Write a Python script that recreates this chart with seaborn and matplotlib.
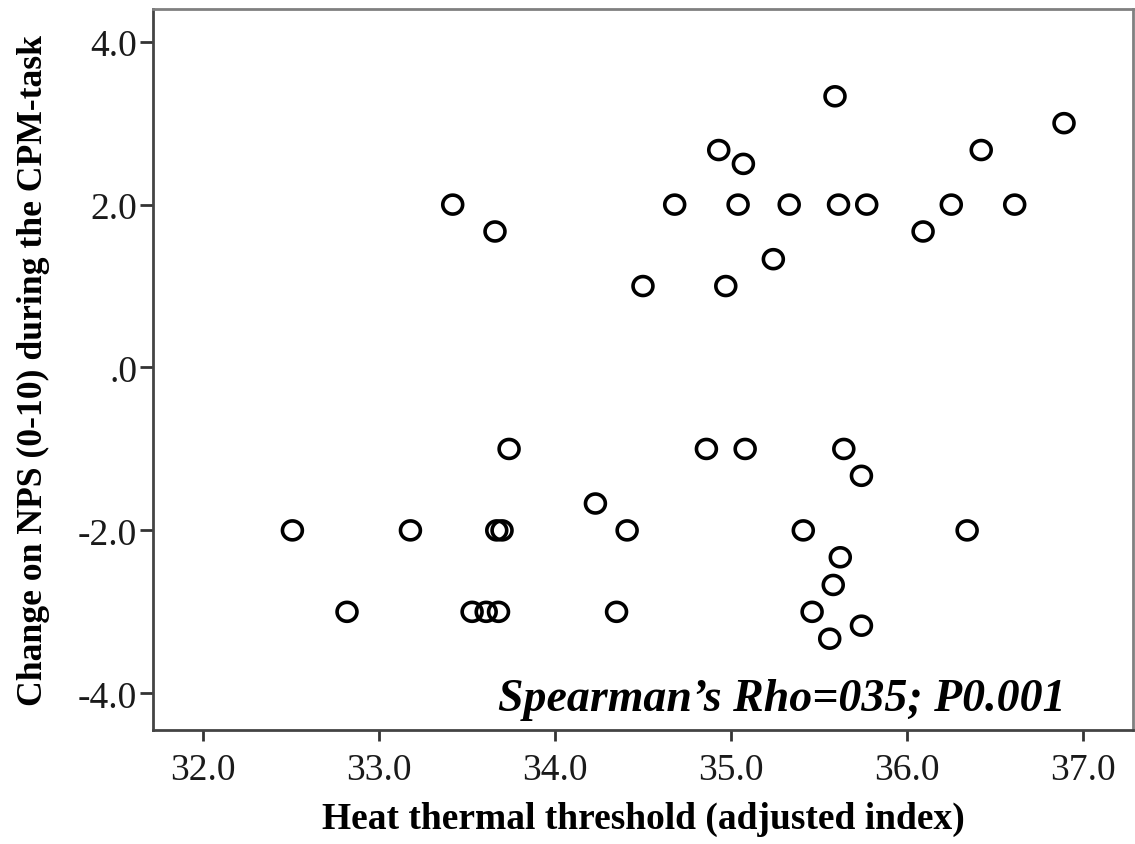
import numpy as np
import pandas as pd
import seaborn as sns
import matplotlib.pyplot as plt
from matplotlib.path import Path

# values
heat_threshold = [
    35.59, 36.89, 34.93, 35.07, 36.42,
    33.42, 34.68, 35.04, 35.33, 35.61, 35.77, 36.25, 36.61,
    33.66, 36.09, 35.24, 34.50, 34.97,
    33.74, 34.86, 35.08, 35.64, 35.74, 34.23,
    32.51, 33.18, 33.67, 33.70, 34.41, 35.41, 36.34,
    35.62, 35.58,
    32.82, 33.53, 33.61, 33.68, 34.35, 35.46, 35.74, 35.56,
]
nps_change = [
    3.33, 3.00, 2.67, 2.50, 2.67,
    2.00, 2.00, 2.00, 2.00, 2.00, 2.00, 2.00, 2.00,
    1.67, 1.67, 1.33, 1.00, 1.00,
    -1.00, -1.00, -1.00, -1.00, -1.33, -1.67,
    -2.00, -2.00, -2.00, -2.00, -2.00, -2.00, -2.00,
    -2.33, -2.67,
    -3.00, -3.00, -3.00, -3.00, -3.00, -3.00, -3.17, -3.33,
]
x_ticks = [32.0, 33.0, 34.0, 35.0, 36.0, 37.0]
x_tick_labels = ["32.0", "33.0", "34.0", "35.0", "36.0", "37.0"]
y_ticks = [-4.0, -2.0, 0.0, 2.0, 4.0]
y_tick_labels = ["-4.0", "-2.0", ".0", "2.0", "4.0"]

df = pd.DataFrame({"heat": heat_threshold, "nps": nps_change})

sns.set_style("ticks")
plt.rcParams["font.family"] = ["Liberation Serif", "DejaVu Serif"]

# nearly round open marker, a touch wider than tall
t = np.linspace(0, 2 * np.pi, 60)
ring = Path(np.column_stack([1.05 * np.cos(t), np.sin(t)]), closed=True)

fig = plt.figure(figsize=(11.35, 8.45), dpi=100)
ax = fig.add_axes([0.135, 0.135, 0.863, 0.853])

sns.scatterplot(data=df, x="heat", y="nps", ax=ax, marker=ring, s=205,
                facecolor="none", edgecolor="black", linewidth=2.6)

ax.set_xlim(31.72, 37.28)
ax.set_ylim(-4.45, 4.4)
ax.set_xticks(x_ticks)
ax.set_xticklabels(x_tick_labels)
ax.set_yticks(y_ticks)
ax.set_yticklabels(y_tick_labels)
ax.tick_params(axis="both", labelsize=27, colors="#333333", width=2)
ax.tick_params(axis="x", length=8, pad=8)
ax.tick_params(axis="y", length=9.5, pad=2)
for lab in ax.get_xticklabels() + ax.get_yticklabels():
    lab.set_color("#1a1a1a")

for side in ["left", "bottom"]:
    ax.spines[side].set_color("#444444")
    ax.spines[side].set_linewidth(2)
for side in ["top", "right"]:
    ax.spines[side].set_color("#808080")
    ax.spines[side].set_linewidth(2)

ax.set_xlabel("Heat thermal threshold (adjusted index)", fontsize=27,
              fontweight="bold", labelpad=10, color="black")
ax.set_ylabel("Change on NPS (0-10) during the CPM-task", fontsize=25.7,
              fontweight="bold", labelpad=20, color="black")

ax.text(36.9, -4.21, "Spearman\u2019s Rho=035; P0.001", fontsize=33,
        fontweight="bold", fontstyle="italic", ha="right", va="baseline",
        color="black")

fig.savefig("out.png", dpi=100)
